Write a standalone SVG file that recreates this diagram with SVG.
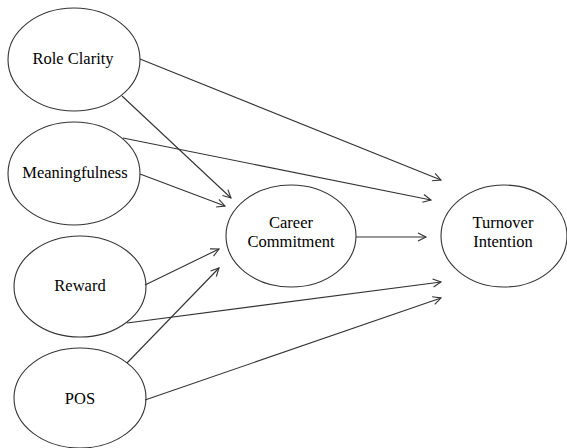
<svg xmlns="http://www.w3.org/2000/svg" width="567" height="448" viewBox="0 0 567 448">
<style>
.n{fill:#fff;stroke:#333;stroke-width:1.1}
.t{font-family:'Liberation Serif','Times New Roman',serif;font-size:16.5px;fill:#000;text-anchor:middle}
.c line{stroke:#333;stroke-width:1.1;marker-end:url(#ah)}
</style>
<defs>
<marker id="ah" markerWidth="12" markerHeight="12" refX="9" refY="5" orient="auto" markerUnits="userSpaceOnUse">
<path d="M1,1 L9,5 L1,9" fill="none" stroke="#333" stroke-width="1.1"/>
</marker>
</defs>
<rect width="567" height="448" fill="#fff"/>
<g id="role-clarity"><ellipse class="n" cx="74" cy="59.5" rx="66" ry="51.5"/><text class="t" x="73" y="64">Role Clarity</text></g>
<g id="meaningfulness"><ellipse class="n" cx="74" cy="173.5" rx="66" ry="51.5"/><text class="t" x="75" y="178">Meaningfulness</text></g>
<g id="reward"><ellipse class="n" cx="80" cy="286.5" rx="66" ry="50.5"/><text class="t" x="80" y="291">Reward</text></g>
<g id="pos"><ellipse class="n" cx="80" cy="398" rx="66" ry="50"/><text class="t" x="80" y="404">POS</text></g>
<g id="career-commitment"><ellipse class="n" cx="291" cy="236" rx="65" ry="51"/><text class="t" x="291" y="228">Career</text><text class="t" x="291" y="247">Commitment</text></g>
<g id="turnover-intention"><ellipse class="n" cx="504" cy="236" rx="63" ry="51"/><text class="t" x="503" y="228">Turnover</text><text class="t" x="503" y="247">Intention</text></g>
<g id="connectors" class="c">
<line x1="140" y1="59" x2="441" y2="180"/>
<line x1="122" y1="96" x2="231" y2="198"/>
<line x1="123" y1="138" x2="431" y2="200"/>
<line x1="140" y1="174" x2="225" y2="206"/>
<line x1="356" y1="237" x2="426" y2="237"/>
<line x1="145" y1="285" x2="219" y2="249"/>
<line x1="127" y1="363" x2="219" y2="268"/>
<line x1="127" y1="323" x2="441" y2="282"/>
<line x1="145" y1="400" x2="441" y2="298"/>
</g>
</svg>
